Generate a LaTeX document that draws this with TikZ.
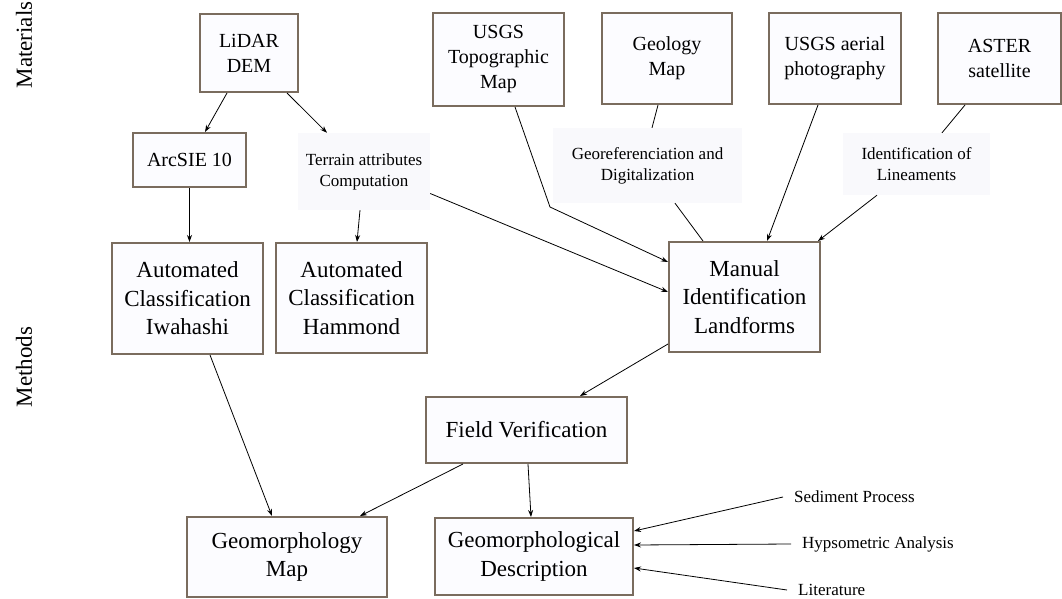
\documentclass[tikz,border=0pt]{standalone}
\usepackage{fontspec}
\setmainfont{Liberation Serif}
\usepackage{tikz}
\usetikzlibrary{arrows.meta}
\usetikzlibrary{calc}

\definecolor{boxline}{RGB}{122,108,94}
\definecolor{boxfill}{RGB}{252,252,255}
\definecolor{notefill}{RGB}{249,249,252}

\begin{document}
\begin{tikzpicture}[x=1pt,y=-1pt,
    box/.style={draw=boxline,line width=2pt,fill=boxfill,inner sep=0pt,align=center},
    big/.style={font=\fontsize{23}{28.5}\selectfont},
    mid/.style={font=\fontsize{20}{25}\selectfont},
    note/.style={fill=notefill,inner sep=0pt,align=center,font=\fontsize{17}{21}\selectfont},
    src/.style={anchor=west,inner xsep=11pt,inner ysep=0pt,font=\fontsize{17}{21}\selectfont},
    arr/.style={-{Stealth[length=7pt,width=5pt]},line width=0.8pt},
    link/.style={line width=0.8pt},
    side/.style={rotate=90,inner sep=0pt,font=\fontsize{23}{28}\selectfont}]
            \useasboundingbox (0,0) rectangle (1062,599);
            \node[side] (materials) at (24,45) {Materials};
            \node[side] (methods) at (24,367) {Methods};
            % materials
            \node[box,mid,minimum width=98pt,minimum height=78pt] (lidar) at (249,53) {LiDAR\\DEM};
            \node[box,mid,minimum width=131pt,minimum height=93pt] (topo) at (498.5,59.5) {USGS\\Topographic\\Map};
            \node[box,mid,minimum width=130pt,minimum height=91pt] (geology) at (667,58.5) {Geology\\Map};
            \node[box,mid,minimum width=132pt,minimum height=91pt] (aerial) at (835,58.5) {USGS aerial\\photography};
            \node[box,mid,minimum width=123pt,minimum height=91pt] (aster) at (999.5,58.5) {ASTER\\satellite};
            % intermediate steps
            \node[box,mid,minimum width=113pt,minimum height=54pt] (arcsie) at (189.5,160) {ArcSIE 10};
            \node[note,minimum width=132pt,minimum height=77pt] (terrain) at (364,171.5) {Terrain attributes\\Computation};
            \node[note,minimum width=189pt,minimum height=75pt] (georef) at (647.5,165.5) {Georeferenciation and\\Digitalization};
            \node[note,minimum width=147pt,minimum height=62pt] (lineam) at (916.5,164) {Identification of\\Lineaments};
            % methods
            \node[box,big,minimum width=151pt,minimum height=111pt] (iwahashi) at (187.5,298.5) {Automated\\Classification\\Iwahashi};
            \node[box,big,minimum width=151pt,minimum height=110pt] (hammond) at (351.5,298) {Automated\\Classification\\Hammond};
            \node[box,big,minimum width=151pt,minimum height=110pt] (manual) at (744.5,297) {Manual\\Identification\\Landforms};
            \node[box,big,minimum width=201pt,minimum height=66pt] (field) at (526.5,430) {Field Verification};
            \node[box,big,minimum width=200pt,minimum height=80pt] (gmap) at (287,557) {Geomorphology\\Map};
            \node[box,big,minimum width=198pt,minimum height=77pt] (gdesc) at (534,556.5) {Geomorphological\\Description};
            \node[src] (sediment) at (783,497) {Sediment Process};
            \node[src] (hypso) at (791,544) {Hypsometric Analysis};
            \node[src] (literature) at (787,590) {Literature};
            \coordinate (bend) at (550,207);
            % connectors
            \draw[arr] ([xshift=-22pt]lidar.south) -- ([xshift=15.5pt]arcsie.north);
            \draw[arr] ([xshift=38pt]lidar.south) -- ([xshift=-37pt]terrain.north);
            \draw[arr] (arcsie.south) -- (arcsie.south |- iwahashi.north);
            \draw[arr] ([xshift=-4pt]terrain.south) -- ([xshift=5.5pt]hammond.north);
            \draw[arr] ([xshift=22.5pt]iwahashi.south) -- ([xshift=-15pt]gmap.north);
            \draw[arr] ([yshift=-22pt]terrain.east) -- ([yshift=5pt]manual.west);
            \draw[arr] ([xshift=16.5pt]topo.south) -- (bend) -- ([yshift=35pt]manual.west);
            \draw[link] ([xshift=-9pt]geology.south) -- ([xshift=4.5pt]georef.north);
            \draw[link] ([xshift=27.5pt]georef.south) -- ([xshift=-41.5pt]manual.north);
            \draw[arr] ([xshift=-17pt]aerial.south) -- ([xshift=22.5pt]manual.north);
            \draw[link] ([xshift=-34.5pt]aster.south) -- ([xshift=25.5pt]lineam.north);
            \draw[arr] ([xshift=-39.5pt]lineam.south) -- ([xshift=-3pt]manual.north east);
            \draw[arr] ([yshift=9pt]manual.south west) -- ([xshift=53.5pt]field.north);
            \draw[arr] ([xshift=-63.5pt]field.south) -- ([xshift=73pt]gmap.north);
            \draw[arr] ([xshift=1.5pt]field.south) -- ([xshift=-3pt]gdesc.north);
            \draw[arr] (sediment.west) -- ([yshift=25.5pt]gdesc.east);
            \draw[arr] (hypso.west) -- ([yshift=11.5pt]gdesc.east);
            \draw[arr] (literature.west) -- ([yshift=-11.5pt]gdesc.east);
        \end{tikzpicture}
\end{document}
